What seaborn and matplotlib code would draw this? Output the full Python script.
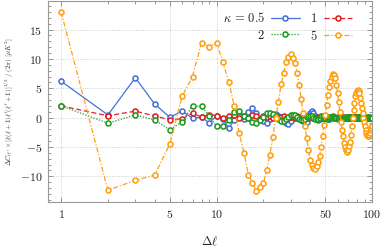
import numpy as np
import pandas as pd
import matplotlib
matplotlib.use("Agg")
import matplotlib.pyplot as plt
from matplotlib.ticker import FixedLocator, MultipleLocator, NullFormatter
import seaborn as sns

# ---- data -------------------------------------------------------------
delta_ell = list(range(1, 101))

kappa_05 = [6.2, 0.45, 6.8, 2.3, 0.05, 1.1, -0.1, 0.05, -0.9, 0.3,
            -0.3, -1.8, -0.4, 0.3, -0.3, 1.0, 1.6, 0.7, -0.2, -0.5,
            -1.0, -0.3, 0.4, 0.6, 0.2, -0.3, -0.6, -0.9, -1.1, -0.5,
            0.1, 0.3, 0.2, 0.0, -0.3, -0.6, -0.8, -0.7, 0.2, 0.8,
            1.1, 0.7, 0.2, -0.2, -0.4, -0.3, 0.0, 0.2, 0.3, 0.1,
            -0.1, -0.2, -0.2, 0.0, 0.1, 0.2, 0.1, 0.0, -0.1, -0.2,
            -0.1, 0.0, 0.1, 0.15, 0.1, 0.0, -0.1, -0.15, -0.1, 0.0,
            0.1, 0.1, 0.05, -0.05, -0.1, -0.1, 0.0, 0.05, 0.1, 0.05,
            0.0, -0.05, -0.1, -0.05, 0.0, 0.05, 0.05, 0.0, -0.05, -0.05,
            0.0, 0.05, 0.0, -0.05, 0.0, 0.05, 0.0, -0.05, 0.0, 0.0]

kappa_1 = [2.0, 0.3, 1.1, 0.3, -0.4, -0.2, 0.75, 0.1, 0.5, 0.35,
           0.0, 0.2, 0.4, -0.1, 0.3, 0.0, 0.5, 0.3, -0.2, 0.2,
           0.1, 0.3, 0.0, 0.2, -0.1, 0.1, 0.2, 0.0, -0.1, 0.1,
           0.15, 0.0, -0.1, 0.05, 0.1, 0.05, -0.05, -0.1, 0.0, 0.1,
           0.05, 0.0, -0.05, 0.0, 0.05, 0.05, 0.0, -0.05, 0.0, 0.05,
           0.0, 0.03, -0.03, 0.0, 0.03, 0.03, 0.0, -0.03, 0.0, 0.03,
           0.0, -0.03, 0.0, 0.03, 0.0, -0.03, 0.0, 0.03, 0.0, 0.0,
           0.02, 0.0, -0.02, 0.0, 0.02, 0.0, -0.02, 0.0, 0.02, 0.0,
           0.0, 0.02, 0.0, -0.02, 0.0, 0.02, 0.0, -0.02, 0.0, 0.0,
           0.01, 0.0, -0.01, 0.0, 0.01, 0.0, -0.01, 0.0, 0.0, 0.0]

kappa_2 = [2.0, -0.95, 0.45, -0.4, -2.1, -0.7, 2.0, 1.9, 0.3, -1.5,
           -1.5, -0.4, 1.0, 1.2, 0.3, -0.1, -0.7, -0.85, -0.4, 0.1,
           0.75, 0.85, 0.6, 0.2, -0.3, -0.6, -0.6, -0.3, 0.1, 0.4,
           0.5, 0.4, 0.1, -0.2, -0.4, -0.4, -0.2, 0.1, 0.3, 0.35,
           0.25, 0.0, -0.2, -0.3, -0.2, 0.0, 0.2, 0.25, 0.15, 0.0,
           -0.15, -0.2, -0.1, 0.05, 0.15, 0.15, 0.05, -0.1, -0.15, -0.1,
           0.0, 0.1, 0.1, 0.05, -0.05, -0.1, -0.05, 0.0, 0.05, 0.05,
           0.03, -0.03, -0.05, -0.03, 0.0, 0.03, 0.05, 0.03, 0.0, -0.03,
           -0.03, 0.0, 0.03, 0.03, 0.0, -0.03, -0.03, 0.0, 0.02, 0.02,
           0.0, -0.02, -0.02, 0.0, 0.02, 0.02, 0.0, -0.02, 0.0, 0.0]

kappa_5 = [18.0, -12.4, -10.7, -9.8, -4.5, 3.6, 7.0, 12.8, 12.1, 12.8,
           9.4, 6.0, 1.9, -2.7, -6.0, -9.8, -11.1, -12.6, -11.9, -11.2,
           -8.9, -6.4, -3.3, -0.1, 2.7, 5.7, 7.6, 9.5, 10.4, 10.9,
           10.1, 9.3, 7.6, 5.6, 3.2, 0.7, -1.5, -3.5, -5.5, -7.2,
           -8.1, -8.6, -8.8, -8.2, -7.5, -6.5, -5.0, -3.2, -1.2, 0.5,
           2.2, 3.9, 5.2, 6.3, 7.0, 7.4, 7.3, 6.7, 5.6, 4.2,
           2.7, 1.0, -0.7, -2.1, -3.2, -4.4, -5.0, -5.5, -5.8, -5.6,
           -4.9, -4.1, -2.9, -1.5, -0.1, 1.3, 2.5, 3.6, 4.2, 4.5,
           4.7, 4.5, 4.2, 3.3, 2.5, 1.6, 0.7, -0.1, -0.8, -1.5,
           -2.1, -2.6, -2.9, -3.2, -3.2, -3.0, -2.6, -2.2, -1.8, -1.4]

series_labels = [r"$\kappa\,=\,0.5$", r"$1$", r"$2$", r"$5$"]
x_ticks = [1, 5, 10, 50, 100]
y_ticks = [-10, -5, 0, 5, 10, 15]

# ---- style -------------------------------------------------------------
sns.set_style("ticks")
plt.rcParams["mathtext.fontset"] = "cm"
plt.rcParams["font.family"] = ["DejaVu Serif"]

colors = ["#4470d8", "#e2201c", "#1f9a22", "#ffa010"]
styles = ["-", (0, (4, 2.2)), (0, (1, 1.3)), (0, (4, 1.5, 1, 1.5))]
series = [kappa_05, kappa_1, kappa_2, kappa_5]

fig = plt.figure(figsize=(3.82, 2.47), dpi=100)
ax = fig.add_axes([0.126, 0.182, 0.848, 0.812])

for vals, lab, c, ls in zip(series, series_labels, colors, styles):
    df = pd.DataFrame({"x": delta_ell, "y": vals})
    sns.lineplot(data=df, x="x", y="y", ax=ax, color=c, linestyle=ls,
                 linewidth=0.9, marker="o", markersize=3.6,
                 markerfacecolor="white", markeredgecolor=c,
                 markeredgewidth=1.15, label=lab, estimator=None,
                 sort=False)

ax.set_xscale("log")
ax.set_xlim(0.825, 100)
ax.set_ylim(-14.4, 19.8)

ax.xaxis.set_major_locator(FixedLocator(x_ticks))
ax.set_xticklabels([f"${t}$" for t in x_ticks])
minor_x = [v for d in (1, 10) for v in range(2 * d, 10 * d, d) if v not in x_ticks]
ax.xaxis.set_minor_locator(FixedLocator(minor_x))
ax.xaxis.set_minor_formatter(NullFormatter())

ax.yaxis.set_major_locator(FixedLocator(y_ticks))
ax.set_yticklabels([f"${t}$" for t in y_ticks])
ax.yaxis.set_minor_locator(MultipleLocator(1))

ax.tick_params(which="both", direction="in", top=True, right=True,
               colors="#888888", labelcolor="#222222", labelsize=8.5,
               width=0.6)
ax.tick_params(which="major", length=3.5, pad=4)
ax.tick_params(which="minor", length=2)
for s in ax.spines.values():
    s.set_color("#999999")
    s.set_linewidth(0.8)

ax.grid(True, which="major", linestyle=(0, (1, 1.5)), color="#cccccc",
        linewidth=0.7)

ax.set_xlabel(r"$\Delta\ell$", fontsize=9, labelpad=10)
ax.set_ylabel(r"$\Delta C_{\ell\ell'}\times\left[\ell(\ell+1)\ell'(\ell'+1)\right]^{1/2}\ /\ (2\pi)\ [\mu K^2]$",
              fontsize=5.0)
ax.yaxis.set_label_coords(-0.098, 0.5)

handles, labels = ax.get_legend_handles_labels()
order = [0, 2, 1, 3]
leg = ax.legend([handles[i] for i in order], [labels[i] for i in order],
                ncol=2, loc="upper right", bbox_to_anchor=(0.955, 0.975),
                frameon=False, markerfirst=False, fontsize=9,
                handlelength=2.3, handletextpad=0.5, columnspacing=0.8,
                labelspacing=0.25, borderaxespad=0)

fig.savefig("out.png", dpi=100)
